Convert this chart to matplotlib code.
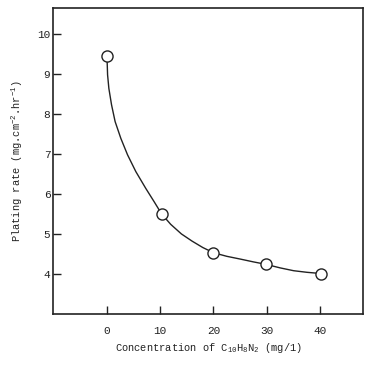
import matplotlib
matplotlib.use("Agg")
import matplotlib.pyplot as plt

# measured points
conc = [0, 10.3, 20.0, 29.8, 40.1]
rate = [9.46, 5.5, 4.53, 4.24, 4.01]

# hand-drawn curve
curve_x = [0.1, 0.19, 0.43, 0.93, 1.6, 2.67, 3.92, 5.47, 7.33, 8.88, 10.3,
           12.0, 14.0, 16.0, 18.0, 20.0, 22.5, 25.06, 27.5, 29.8, 32.5, 35.0,
           37.5, 40.1]
curve_y = [9.35, 8.98, 8.64, 8.23, 7.81, 7.39, 6.98, 6.56, 6.14, 5.81, 5.5,
           5.24, 5.0, 4.82, 4.66, 4.53, 4.44, 4.37, 4.3, 4.24, 4.15, 4.08,
           4.04, 4.01]

xticks = [0, 10, 20, 30, 40]
yticks = [4, 5, 6, 7, 8, 9, 10]

plt.rcParams['font.family'] = ['Liberation Mono', 'DejaVu Sans Mono']
plt.rcParams['mathtext.fontset'] = 'custom'
plt.rcParams['mathtext.rm'] = 'Liberation Mono'
plt.rcParams['mathtext.it'] = 'Liberation Mono'
plt.rcParams['mathtext.default'] = 'rm'

ink = '#222222'

fig = plt.figure(figsize=(3.74, 3.65), dpi=100)
ax = fig.add_axes([0.142, 0.14, 0.829, 0.838])

ax.plot(curve_x, curve_y, color=ink, lw=1.0, zorder=2)
ax.plot(conc, rate, 'o', ms=8, mfc='white', mec=ink, mew=1.0, zorder=3)

ax.set_xlim(-10, 48)
ax.set_ylim(3.0, 10.65)
ax.set_xticks(xticks)
ax.set_yticks(yticks)
ax.tick_params(direction='in', length=6, width=1, colors=ink, labelsize=8)
ax.tick_params(axis='x', pad=9)
ax.tick_params(axis='y', pad=2)

for s in ax.spines.values():
    s.set_linewidth(1.2)
    s.set_color(ink)

ax.set_xlabel(r'Concentration of C$_{10}$H$_8$N$_2$ (mg/1)', fontsize=7.5, color=ink, labelpad=3)
ax.set_ylabel(r'Plating rate (mg.cm$^{-2}$.hr$^{-1}$)', fontsize=7.5, color=ink, labelpad=9)

fig.savefig('out.png', dpi=100, facecolor='white')
